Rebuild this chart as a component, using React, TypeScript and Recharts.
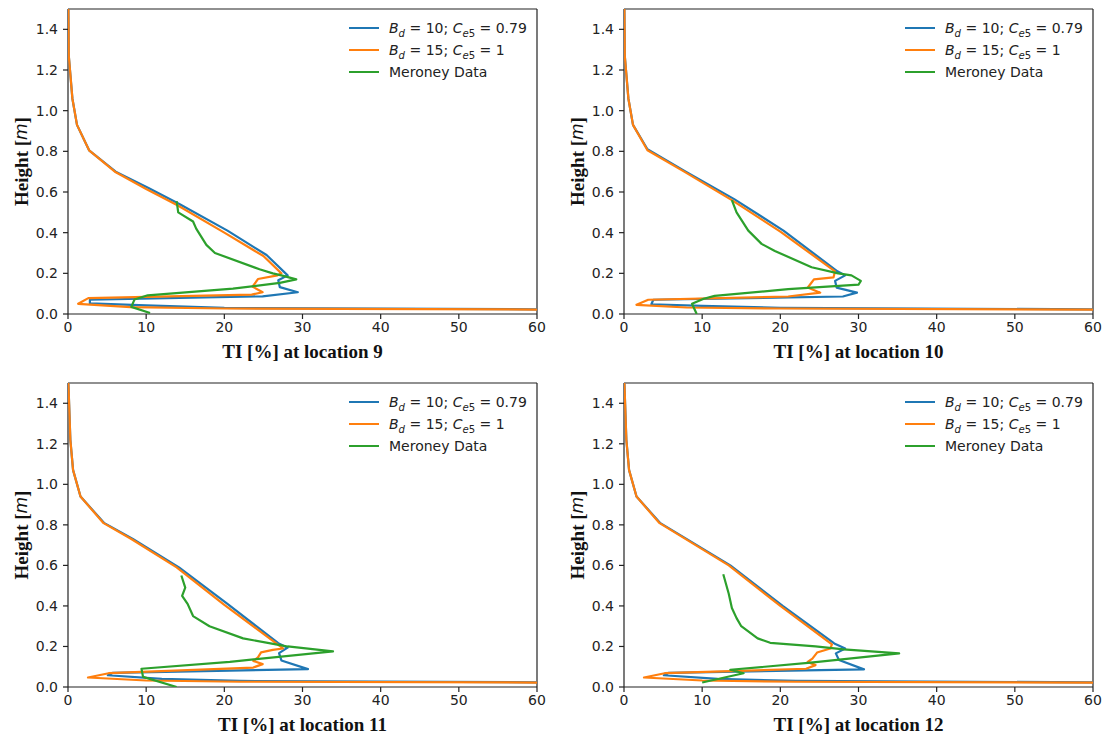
import React from 'react';
import { ScatterChart, Scatter, XAxis, YAxis, ReferenceLine, Legend } from 'recharts';

type P = [number, number]; // [TI %, height m]

const TI_TICKS = [0, 10, 20, 30, 40, 50, 60];
const H_TICKS = [0, 0.2, 0.4, 0.6, 0.8, 1.0, 1.2, 1.4];

// ---- location 9 ----
const loc9Bd10: P[] = [[0.05,1.5],[0.1,1.27],[0.56,1.06],[1.15,0.93],[2.7,0.805],[6.1,0.70],[10.3,0.62],[14.3,0.54],[20.4,0.41],[25.4,0.29],[28.1,0.19],[26.9,0.166],[27.1,0.132],[29.4,0.107],[24.9,0.087],[2.8,0.07],[2.8,0.052],[10,0.042],[20,0.03],[60,0.023]];
const loc9Bd15: P[] = [[0.05,1.5],[0.1,1.27],[0.56,1.06],[1.15,0.93],[2.7,0.805],[6,0.70],[10,0.615],[14,0.535],[20,0.40],[25,0.285],[27.3,0.2],[26.8,0.19],[24.3,0.172],[24,0.155],[23.6,0.135],[24.9,0.107],[23.5,0.095],[2.6,0.078],[1.3,0.05],[8,0.034],[20,0.027],[60,0.022]];
const loc9Meroney: P[] = [[13.9,0.555],[14.1,0.5],[16,0.455],[16.4,0.42],[17.7,0.34],[18.8,0.3],[24.5,0.22],[26.2,0.2],[27.3,0.19],[29.2,0.17],[27.1,0.153],[21.1,0.125],[10.2,0.092],[8.5,0.071],[8.1,0.035],[10.5,0.005]];

// ---- location 10 ----
const loc10Bd10: P[] = [[0.05,1.5],[0.1,1.27],[0.56,1.06],[1.15,0.93],[3,0.81],[7.9,0.70],[14.1,0.565],[20.4,0.41],[27.3,0.21],[28.3,0.19],[27,0.163],[27.2,0.13],[29.8,0.105],[28,0.086],[3.75,0.07],[3.5,0.048],[10,0.04],[20,0.03],[60,0.023]];
const loc10Bd15: P[] = [[0.05,1.5],[0.1,1.27],[0.56,1.06],[1.15,0.93],[3,0.805],[7.7,0.70],[13.8,0.56],[20,0.405],[27,0.21],[26.8,0.18],[24.3,0.17],[24,0.155],[23.5,0.13],[25.1,0.105],[21,0.086],[3.1,0.07],[1.6,0.045],[8,0.032],[20,0.027],[60,0.022]];
const loc10Meroney: P[] = [[13.8,0.56],[14.4,0.5],[15.9,0.41],[17.6,0.345],[19.3,0.31],[24,0.23],[27.4,0.2],[29.1,0.19],[30.3,0.163],[30,0.144],[21,0.122],[11.6,0.089],[10.2,0.075],[8.7,0.05],[9.3,0.0]];

// ---- location 11 ----
const loc11Bd10: P[] = [[0.05,1.5],[0.3,1.22],[0.65,1.07],[1.6,0.94],[4.6,0.81],[8.3,0.73],[14.2,0.59],[20.4,0.41],[26.9,0.216],[28.1,0.194],[27,0.167],[27.3,0.131],[30.7,0.088],[5.75,0.07],[5.1,0.058],[12,0.04],[22,0.03],[60,0.023]];
const loc11Bd15: P[] = [[0.05,1.5],[0.3,1.22],[0.65,1.07],[1.6,0.94],[4.5,0.81],[8.1,0.73],[13.9,0.59],[20,0.405],[26.6,0.216],[27.5,0.19],[26.2,0.183],[24.7,0.171],[24.3,0.146],[23.7,0.129],[24.9,0.113],[23.7,0.096],[5.2,0.068],[2.56,0.047],[10,0.032],[22,0.026],[60,0.022]];
const loc11Meroney: P[] = [[14.5,0.55],[15,0.49],[14.6,0.45],[15.3,0.41],[16,0.35],[18.1,0.3],[22.4,0.24],[26.6,0.21],[28.1,0.2],[33.9,0.176],[20.7,0.124],[9.4,0.09],[9.6,0.05],[13.9,0.0]];

// ---- location 12 ----
const loc12Bd10: P[] = [[0.05,1.5],[0.3,1.22],[0.65,1.07],[1.6,0.94],[4.6,0.81],[13.6,0.6],[20.3,0.40],[26.9,0.215],[28.3,0.19],[27.1,0.166],[27.5,0.133],[30.7,0.087],[5.75,0.07],[5.1,0.058],[12,0.04],[22,0.03],[60,0.023]];
const loc12Bd15: P[] = [[0.05,1.5],[0.3,1.22],[0.65,1.07],[1.6,0.94],[4.5,0.81],[13.4,0.6],[20,0.40],[26.6,0.21],[26.4,0.19],[24.7,0.17],[24.1,0.14],[23.5,0.124],[24.5,0.108],[23.3,0.09],[5.2,0.068],[2.56,0.047],[10,0.032],[22,0.026],[60,0.022]];
const loc12Meroney: P[] = [[12.7,0.556],[13.4,0.46],[13.8,0.39],[14.4,0.34],[15,0.3],[17.1,0.24],[18.7,0.218],[24.5,0.2],[28.1,0.186],[35.2,0.166],[23.9,0.12],[13.6,0.085],[15.3,0.068],[10,0.022]];

const COLORS = { bd10: '#1f77b4', bd15: '#ff7f0e', mer: '#2ca02c' };
const AXIS_COLOR = '#222';
const SANS = '"DejaVu Sans", Verdana, sans-serif';
const SERIF = '"Liberation Serif", "Times New Roman", serif';

const toPts = (arr: P[]) => arr.map(([ti, h]) => ({ ti, h }));
const NoDot = () => null;

const subStyle: React.CSSProperties = { fontSize: '0.72em', verticalAlign: '-0.35em', lineHeight: 0 };

const LEGEND_ITEMS = [
  { color: COLORS.bd10, label: (<><i>B</i><sub style={subStyle}><i>d</i></sub>{' = 10; '}<i>C</i><sub style={subStyle}><i>e</i>5</sub>{' = 0.79'}</>) },
  { color: COLORS.bd15, label: (<><i>B</i><sub style={subStyle}><i>d</i></sub>{' = 15; '}<i>C</i><sub style={subStyle}><i>e</i>5</sub>{' = 1'}</>) },
  { color: COLORS.mer, label: <>Meroney Data</> },
];

const LegendBox = () => (
  <div style={{ fontFamily: SANS, fontSize: 14, color: '#222', lineHeight: '22px' }}>
    {LEGEND_ITEMS.map((it, i) => (
      <div key={i} style={{ display: 'flex', alignItems: 'center', height: 22, whiteSpace: 'nowrap' }}>
        <svg width={30} height={4} style={{ display: 'block' }}>
          <line x1={0} y1={2} x2={30} y2={2} stroke={it.color} strokeWidth={2} />
        </svg>
        <span style={{ marginLeft: 10 }}>{it.label}</span>
      </div>
    ))}
  </div>
);

const W = 554, ML = 18, YW = 50, MR = 17, MT = 9, XH = 40, MB = 16;
const PLOT_W = W - ML - YW - MR;

type PanelProps = { loc: number; bd10: P[]; bd15: P[]; mer: P[]; left: number; top: number; plotH: number };

function Panel({ loc, bd10, bd15, mer, left, top, plotH }: PanelProps) {
  const H = MT + plotH + XH + MB;
  const xLabel = () => (
    <text x={ML + YW + PLOT_W / 2} y={MT + plotH + 44} textAnchor="middle"
      fontFamily={SERIF} fontWeight="bold" fontSize={19} fill="#111">
      {`TI [%] at location ${loc}`}
    </text>
  );
  const yLabel = () => (
    <text transform={`translate(21, ${MT + plotH / 2}) rotate(-90)`} textAnchor="middle"
      dominantBaseline="central" fontFamily={SERIF} fontWeight="bold" fontSize={19} fill="#111">
      Height [<tspan fontStyle="italic" fontWeight="normal" fontFamily={SANS} fontSize={17}>m</tspan>]
    </text>
  );
  const tick = { fontFamily: SANS, fontSize: 14, fill: '#222' };
  return (
    <div style={{ position: 'absolute', left, top, width: W, height: H }}>
      <ScatterChart width={W} height={H} margin={{ top: MT, right: MR, bottom: MB, left: ML }}>
        <XAxis type="number" dataKey="ti" domain={[0, 60]} ticks={TI_TICKS} interval={0} allowDataOverflow
          height={XH} tick={tick} tickSize={5} tickMargin={3}
          axisLine={{ stroke: AXIS_COLOR, strokeWidth: 1.2 }} tickLine={{ stroke: AXIS_COLOR, strokeWidth: 1.2 }}
          label={xLabel} />
        <YAxis type="number" dataKey="h" domain={[0, 1.5]} ticks={H_TICKS} interval={0} allowDataOverflow
          width={YW} tick={tick} tickSize={5} tickMargin={5} tickFormatter={(v: number) => v.toFixed(1)}
          axisLine={{ stroke: AXIS_COLOR, strokeWidth: 1.2 }} tickLine={{ stroke: AXIS_COLOR, strokeWidth: 1.2 }}
          label={yLabel} />
        <ReferenceLine y={1.5} stroke={AXIS_COLOR} strokeWidth={1.2} />
        <ReferenceLine x={60} stroke={AXIS_COLOR} strokeWidth={1.2} />
        <Scatter name="Bd10" data={toPts(bd10)} fill={COLORS.bd10} shape={NoDot} lineType="joint"
          line={{ stroke: COLORS.bd10, strokeWidth: 2.2, strokeLinejoin: 'round' }} isAnimationActive={false} />
        <Scatter name="Bd15" data={toPts(bd15)} fill={COLORS.bd15} shape={NoDot} lineType="joint"
          line={{ stroke: COLORS.bd15, strokeWidth: 2.2, strokeLinejoin: 'round' }} isAnimationActive={false} />
        <Scatter name="Meroney" data={toPts(mer)} fill={COLORS.mer} shape={NoDot} lineType="joint"
          line={{ stroke: COLORS.mer, strokeWidth: 2.2, strokeLinejoin: 'round' }} isAnimationActive={false} />
        <Legend layout="vertical" align="center" verticalAlign="middle"
          wrapperStyle={{ left: 349, top: 17, width: 195, height: 66 }} content={LegendBox} />
      </ScatterChart>
    </div>
  );
}

export default function App() {
  return (
    <div style={{ position: 'absolute', left: 0, top: 0, width: 1108, height: 740, background: '#fff' }}>
      <Panel loc={9} bd10={loc9Bd10} bd15={loc9Bd15} mer={loc9Meroney} left={0} top={0} plotH={305} />
      <Panel loc={10} bd10={loc10Bd10} bd15={loc10Bd15} mer={loc10Meroney} left={556} top={0} plotH={305} />
      <Panel loc={11} bd10={loc11Bd10} bd15={loc11Bd15} mer={loc11Meroney} left={0} top={374} plotH={304} />
      <Panel loc={12} bd10={loc12Bd10} bd15={loc12Bd15} mer={loc12Meroney} left={556} top={374} plotH={304} />
    </div>
  );
}
